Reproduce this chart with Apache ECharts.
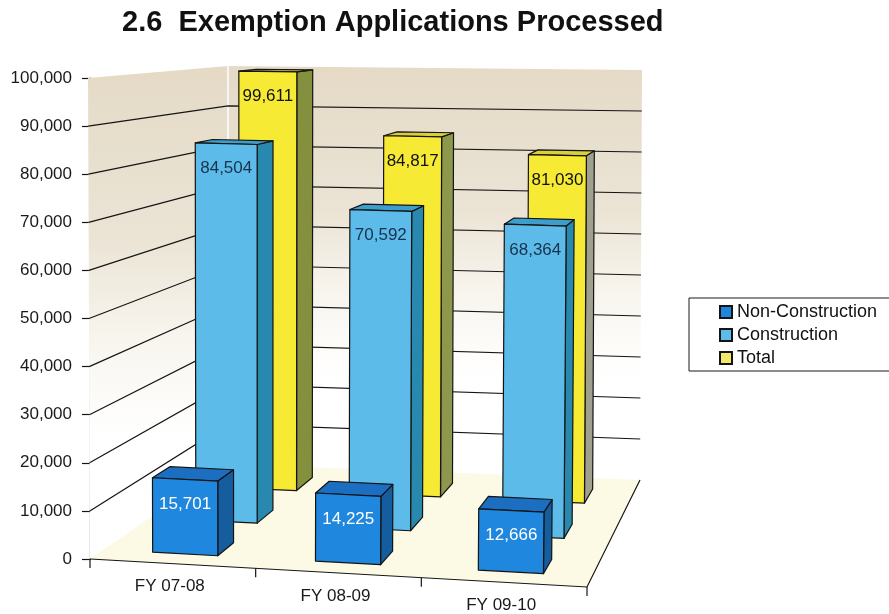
<!DOCTYPE html>
<html>
<head>
<meta charset="utf-8">
<script src="https://cdn.jsdelivr.net/npm/echarts@6/dist/echarts.min.js"></script>
<style>
  html, body { margin: 0; padding: 0; background: #ffffff; }
  #chart { width: 889px; height: 614px; }
</style>
</head>
<body>
<div id="chart"></div>
<script>
// ---- data ----
const categories = ['FY 07-08', 'FY 08-09', 'FY 09-10'];
const nonConstruction = [15701, 14225, 12666];
const construction = [84504, 70592, 68364];
const total = [99611, 84817, 81030];
const seriesNames = ['Non-Construction', 'Construction', 'Total'];
const yMin = 0, yMax = 100000, yStep = 10000;

const FONT = '"Liberation Sans", Arial, sans-serif';

// Perspective frame: front plane hangs off the cartesian grid, back plane sits deeper.
function makeProjector(cs) {
  const L = cs.x, T = cs.y, R = cs.x + cs.width, B = cs.y + cs.height;
  const FLB = [L, B], FLT = [L - 2, T], FRB = [R, B + 28], FRT = [R + 5, T + 14];
  const BLB = [L + 138, B - 95], BLT = [L + 138, T - 12], BRB = [R + 53, B - 79], BRT = [R + 55, T - 8];
  const lerp = (a, b, t) => [a[0] + (b[0] - a[0]) * t, a[1] + (b[1] - a[1]) * t];
  return (u, v, w) => lerp(
    lerp(lerp(FLB, FRB, u), lerp(FLT, FRT, u), v),
    lerp(lerp(BLB, BRB, u), lerp(BLT, BRT, u), v),
    w
  );
}

// value -> fraction of the axis height, through the y scale
function vFrac(api, cs, value) {
  return (cs.y + cs.height - api.coord([0, value])[1]) / cs.height;
}

function renderFrame(params, api) {
  if (params.dataIndex !== 0) return null;
  const cs = params.coordSys;
  const P = makeProjector(cs);
  const children = [];
  const wallFill = new echarts.graphic.LinearGradient(0, 0, 0, 1, [
    { offset: 0, color: '#e4dac6' },
    { offset: 0.35, color: '#ebe4d5' },
    { offset: 0.55, color: '#f8f5ee' },
    { offset: 0.75, color: '#ffffff' },
    { offset: 1, color: '#ffffff' }
  ]);
  // left wall
  children.push({ type: 'polygon', shape: { points: [P(0, 0, 0), P(0, 1, 0), P(0, 1, 1), P(0, 0, 1)] },
    style: { fill: wallFill, stroke: null } });
  // back wall
  children.push({ type: 'polygon', shape: { points: [P(0, 0, 1), P(0, 1, 1), P(1, 1, 1), P(1, 0, 1)] },
    style: { fill: wallFill, stroke: null } });
  // floor
  children.push({ type: 'polygon', shape: { points: [P(0, 0, 0), P(0, 0, 1), P(1, 0, 1), P(1, 0, 0)] },
    style: { fill: '#fcf9e4', stroke: null } });
  // wall corner
  children.push({ type: 'line', shape: { x1: P(0, 0, 1)[0], y1: P(0, 0, 1)[1], x2: P(0, 1, 1)[0], y2: P(0, 1, 1)[1] },
    style: { stroke: '#ffffff', lineWidth: 1.5 } });
  // gridlines along left and back walls
  for (let t = yMin + yStep; t < yMax; t += yStep) {
    const v = vFrac(api, cs, t);
    children.push({ type: 'polyline', shape: { points: [P(0, v, 0), P(0, v, 1), P(1, v, 1)] },
      style: { stroke: '#151515', lineWidth: 1.2, fill: null } });
  }
  // floor front edge (category axis) and right edge
  children.push({ type: 'polyline', shape: { points: [P(0, 0, 0), P(1, 0, 0), P(1, 0, 1)] },
    style: { stroke: '#151515', lineWidth: 1.2, fill: null } });
  // category ticks and labels
  const band = api.size([1, 0])[0] / cs.width;
  for (let k = 0; k <= categories.length; k++) {
    const p = P(k * band, 0, 0);
    children.push({ type: 'line', shape: { x1: p[0], y1: p[1], x2: p[0], y2: p[1] + 9 },
      style: { stroke: '#151515', lineWidth: 1.2 } });
  }
  categories.forEach((name, i) => {
    const u = (api.coord([i, 0])[0] - cs.x) / cs.width;
    const p = P(u, 0, 0);
    children.push({ type: 'text', x: p[0] - 3, y: p[1] + 23,
      style: { text: name, fill: '#1a1a1a', font: '17px ' + FONT, align: 'center', verticalAlign: 'middle' } });
  });
  return { type: 'group', children };
}

function makeBarRenderer(row, face, top, side, labelColor) {
  return function (params, api) {
    const cs = params.coordSys;
    const P = makeProjector(cs);
    const i = api.value(0);
    const val = api.value(1);
    const band = api.size([1, 0])[0] / cs.width;
    const uc = (api.coord([i, 0])[0] - cs.x) / cs.width;
    const u0 = uc - 0.2 * band, u1 = uc + 0.2 * band;
    const v = vFrac(api, cs, val);
    const w0 = row / 3 + 0.1, w1 = row / 3 + 1 / 3 - 0.1;
    const edge = { stroke: '#141414', lineWidth: 1.2, lineJoin: 'round' };
    const sideColor = Array.isArray(side) ? side[params.dataIndex] : side;
    const lp = P(uc, v, w0);
    return {
      type: 'group',
      children: [
        { type: 'polygon', shape: { points: [P(u1, 0, w0), P(u1, 0, w1), P(u1, v, w1), P(u1, v, w0)] },
          style: Object.assign({ fill: sideColor }, edge) },
        { type: 'polygon', shape: { points: [P(u0, v, w0), P(u1, v, w0), P(u1, v, w1), P(u0, v, w1)] },
          style: Object.assign({ fill: top }, edge) },
        { type: 'polygon', shape: { points: [P(u0, 0, w0), P(u1, 0, w0), P(u1, v, w0), P(u0, v, w0)] },
          style: Object.assign({ fill: face }, edge) },
        { type: 'text', x: lp[0], y: lp[1] + 25,
          style: { text: val.toLocaleString('en-US'), fill: labelColor, font: '17px ' + FONT,
            align: 'center', verticalAlign: 'middle' } }
      ]
    };
  };
}

const toPairs = arr => arr.map((v, i) => [i, v]);

const chart = echarts.init(document.getElementById('chart'), null, { renderer: 'canvas' });
chart.setOption({
  animation: false,
  backgroundColor: '#ffffff',
  graphic: [{
    type: 'text', left: 122, top: 8,
    style: { text: '2.6  Exemption Applications Processed', fill: '#111111',
      font: 'bold 29px ' + FONT }
  }],
  legend: {
    orient: 'vertical', left: 689, top: 298,
    data: seriesNames,
    icon: 'rect', itemWidth: 12, itemHeight: 12, itemGap: 5,
    padding: [5, 20, 4, 30],
    borderColor: '#1a1a1a', borderWidth: 1,
    textStyle: { fontSize: 18, color: '#111111', fontFamily: FONT }
  },
  grid: { left: 90, top: 78, width: 497, height: 481 },
  xAxis: { type: 'category', data: categories, show: false },
  yAxis: {
    type: 'value', min: yMin, max: yMax, interval: yStep,
    axisLine: { show: true, lineStyle: { color: '#151515', width: 1.2 } },
    axisTick: { show: true, length: 8, lineStyle: { color: '#151515', width: 1.2 } },
    axisLabel: { margin: 18, color: '#1a1a1a', fontSize: 17, fontFamily: FONT,
      formatter: v => v.toLocaleString('en-US') },
    splitLine: { show: false }
  },
  series: [
    { type: 'custom', name: 'frame', z: 1, data: toPairs(categories.map(() => 0)), renderItem: renderFrame, silent: true },
    { type: 'custom', name: 'Total', z: 2, data: toPairs(total),
      itemStyle: { color: '#f3ea6a', borderColor: '#141414', borderWidth: 1 },
      renderItem: makeBarRenderer(2, '#f6ea35', '#d9cf3a', ['#84903e', '#8e984c', '#a0a08e'], '#111111') },
    { type: 'custom', name: 'Construction', z: 3, data: toPairs(construction),
      itemStyle: { color: '#5dbde9', borderColor: '#141414', borderWidth: 1 },
      renderItem: makeBarRenderer(1, '#5cbbe8', '#3d9dcc', '#2888ae', '#17324d') },
    { type: 'custom', name: 'Non-Construction', z: 4, data: toPairs(nonConstruction),
      itemStyle: { color: '#1f86dd', borderColor: '#141414', borderWidth: 1 },
      renderItem: makeBarRenderer(0, '#1f87de', '#1c6ec0', '#155d9c', '#ffffff') }
  ]
});
</script>
</body>
</html>
